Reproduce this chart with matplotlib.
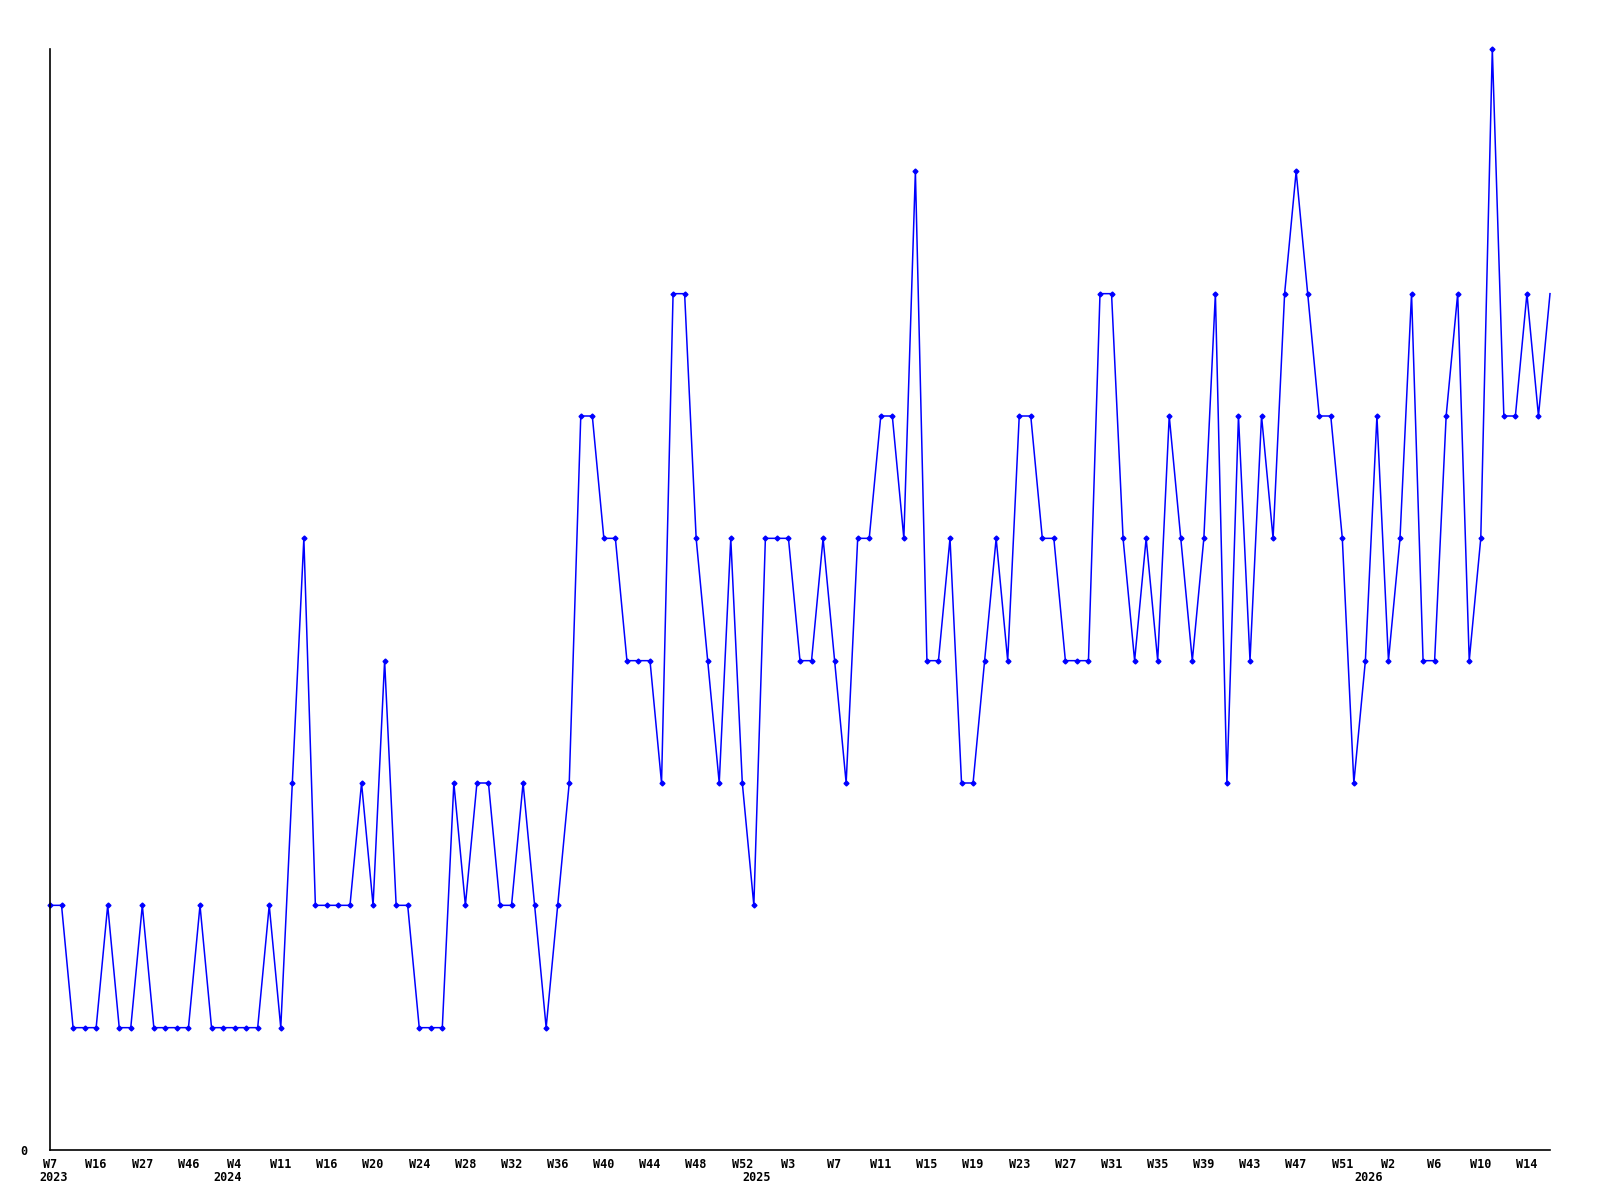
import numpy as np
import matplotlib.pyplot as plt

# weekly counts, one point per week bucket
values = [2, 2, 1, 1, 1, 2, 1, 1, 2, 1, 1, 1, 1, 2, 1, 1, 1, 1, 1, 2,
          1, 3, 5, 2, 2, 2, 2, 3, 2, 4, 2, 2, 1, 1, 1, 3, 2, 3, 3, 2,
          2, 3, 2, 1, 2, 3, 6, 6, 5, 5, 4, 4, 4, 3, 7, 7, 5, 4, 3, 5,
          3, 2, 5, 5, 5, 4, 4, 5, 4, 3, 5, 5, 6, 6, 5, 8, 4, 4, 5, 3,
          3, 4, 5, 4, 6, 6, 5, 5, 4, 4, 4, 7, 7, 5, 4, 5, 4, 6, 5, 4,
          5, 7, 3, 6, 4, 6, 5, 7, 8, 7, 6, 6, 5, 3, 4, 6, 4, 5, 7, 4,
          4, 6, 7, 4, 5, 9, 6, 6, 7, 6, 7]

week_labels = ["W7", "W16", "W27", "W46", "W4", "W11", "W16", "W20", "W24",
               "W28", "W32", "W36", "W40", "W44", "W48", "W52", "W3", "W7",
               "W11", "W15", "W19", "W23", "W27", "W31", "W35", "W39", "W43",
               "W47", "W51", "W2", "W6", "W10", "W14"]
label_step = 4

years = ["2023", "2024", "2025", "2026"]
year_pos = [0.3, 15.4, 61.2, 114.3]

x = np.arange(len(values))

fig = plt.figure(figsize=(16, 12), dpi=100)
ax = fig.add_axes([50 / 1600, 50 / 1200, 1500 / 1600, 1101 / 1200])

ax.plot(x, values, color="#0000ff", linewidth=1.1, marker="D", markersize=2.5,
        markevery=list(range(len(values) - 1)), clip_on=False)

ax.set_xlim(0, len(values) - 1)
ax.set_ylim(0, 9)

ax.spines["top"].set_visible(False)
ax.spines["right"].set_visible(False)
ax.spines["left"].set_linewidth(1.2)
ax.spines["bottom"].set_linewidth(1.2)

font = dict(family="DejaVu Sans Mono", fontweight="bold", fontsize=8.5)

ax.set_yticks([0])
ax.set_yticklabels(["0"], **font)
ax.set_xticks(x[::label_step][:len(week_labels)])
ax.set_xticklabels(week_labels, **font)
ax.tick_params(axis="both", length=0)
ax.tick_params(axis="x", pad=6)
ax.tick_params(axis="y", pad=16)

for yr, pos in zip(years, year_pos):
    ax.text(pos, -0.225, yr, ha="center", va="center", **font)

fig.savefig("out.png", dpi=100)
